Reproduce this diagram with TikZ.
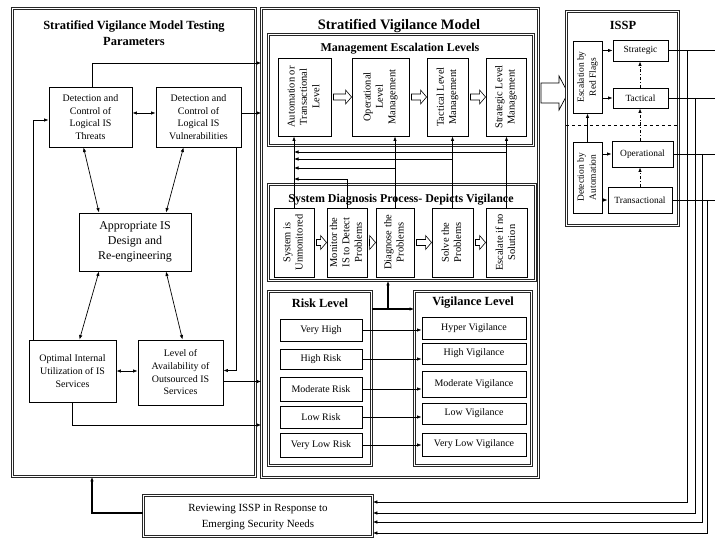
\documentclass[tikz,border=0pt]{standalone}
\usepackage{fontspec}
\setmainfont{Liberation Serif}
\usepackage{graphicx}
\usetikzlibrary{positioning, arrows.meta, shapes.geometric}

\newcommand{\vtext}[1]{\rotatebox{90}{\begin{tabular}{@{}c@{}}#1\end{tabular}}}
% freccia cava tra due blocchi affiancati
\newcommand{\harrow}[2]{%
    \draw [fill=white, line width=0.6bp] ([xshift=2bp, yshift=3bp]#1.east) -- ([xshift=-6bp, yshift=3bp]#1.east -| #2.west)
        -- ([xshift=-6bp, yshift=7bp]#1.east -| #2.west) -- (#1.east -| #2.west)
        -- ([xshift=-6bp, yshift=-7bp]#1.east -| #2.west) -- ([xshift=-6bp, yshift=-3bp]#1.east -| #2.west)
        -- ([xshift=2bp, yshift=-3bp]#1.east) -- cycle;}

\begin{document}
\begin{tikzpicture}[x=1bp, y=-1bp, >={Latex[length=4.5bp, width=3.5bp]}, line width=0.7bp]
    % Stili
    \tikzstyle{tribox} = [draw=black!85, double, double distance=1.8bp, line width=0.7bp, inner sep=0pt]
    \tikzstyle{block} = [draw, rectangle, line width=0.9bp, inner sep=1bp, align=center, font=\fontsize{10}{12.7}\selectfont]
    \tikzstyle{vblock} = [block, font=\fontsize{10.5}{12.5}\selectfont]
    \tikzstyle{sblock} = [block, font=\fontsize{9.5}{12}\selectfont]
    \tikzstyle{title} = [align=center, font=\bfseries\fontsize{12.5}{16.5}\selectfont]
    \tikzstyle{thk} = [line width=1.5bp]

    \useasboundingbox (0,0) rectangle (715,539);

    % Riquadri
    \node [tribox, minimum width=243bp, minimum height=468bp] (fL) at (134,242.5) {};
    \node [tribox, minimum width=277bp, minimum height=469bp] (fSVM) at (400,243) {};
    \node [tribox, minimum width=265bp, minimum height=111bp] (fMEL) at (401,90) {};
    \node [tribox, minimum width=267bp, minimum height=96bp] (fSDP) at (402,232.5) {};
    \node [tribox, minimum width=103bp, minimum height=174bp] (fRisk) at (320,378.5) {};
    \node [tribox, minimum width=117bp, minimum height=174bp] (fVig) at (473,378.5) {};
    % freccia verso ISSP
    \draw [fill=white] (541,83) -- (559,83) -- (559,76) -- (568,93) -- (559,110) -- (559,103) -- (541,103) -- cycle;
    \node [tribox, fill=white, minimum width=112bp, minimum height=214bp] (fISSP) at (622.5,118.5) {};
    \node [tribox, minimum width=229bp, minimum height=41bp] (rev) at (258,516)
        {\fontsize{11}{16}\selectfont\begin{tabular}{c}Reviewing ISSP in Response to\\Emerging Security Needs\end{tabular}};

    % Titoli
    \node [title] (tL) at (134,33) {Stratified Vigilance Model Testing\\Parameters};
    \node [title, font=\bfseries\fontsize{14.5}{16}\selectfont] (tSVM) at (399,26) {Stratified Vigilance Model};
    \node [title, font=\bfseries\fontsize{12}{14}\selectfont] (tMEL) at (400,49) {Management Escalation Levels};
    \node [title, font=\bfseries\fontsize{12}{14}\selectfont] (tSDP) at (401,200) {System Diagnosis Process- Depicts Vigilance};
    \node [title] (tRisk) at (320,303) {Risk Level};
    \node [title] (tVig) at (473,303) {Vigilance Level};
    \node [title] (tISSP) at (623,25) {ISSP};

    % Nodi - parametri
    \node [block, minimum width=83bp, minimum height=60bp] (thr) at (90.5,117) {Detection and\\Control of\\Logical IS\\Threats};
    \node [block, minimum width=85bp, minimum height=60bp] (vul) at (198.5,117) {Detection and\\Control of\\Logical IS\\Vulnerabilities};
    \node [block, minimum width=112bp, minimum height=58bp, font=\fontsize{12}{15}\selectfont] (app) at (135,242) {Appropriate IS\\Design and\\Re-engineering};
    \node [block, minimum width=87bp, minimum height=62bp] (opt) at (72.5,371) {Optimal Internal\\Utilization of IS\\Services};
    \node [block, minimum width=85bp, minimum height=65bp] (lev) at (180.5,372.5) {Level of\\Availability of\\Outsourced IS\\Services};

    % Nodi - livelli di escalation
    \node [vblock, minimum width=53bp, minimum height=78bp] (aut) at (304.5,97) {\vtext{Automation or\\Transactional\\Level}};
    \node [vblock, minimum width=57bp, minimum height=78bp] (ope) at (380.5,97) {\vtext{Operational\\Level\\Management}};
    \node [vblock, minimum width=41bp, minimum height=78bp] (tac) at (447.5,97) {\vtext{Tactical Level\\Management}};
    \node [vblock, minimum width=40bp, minimum height=78bp] (str) at (506,97) {\vtext{Strategic Level\\Management}};

    % Nodi - diagnosi
    \node [vblock, minimum width=40bp, minimum height=69bp] (unm) at (294,242.5) {\vtext{System is\\Unmonitored}};
    \node [vblock, minimum width=40bp, minimum height=69bp] (mon) at (347,242.5) {\vtext{Monitor the\\IS to Detect\\Problems}};
    \node [vblock, minimum width=38bp, minimum height=69bp] (dia) at (395,242.5) {\vtext{Diagnose the\\Problems}};
    \node [vblock, minimum width=41bp, minimum height=69bp] (sol) at (452.5,242.5) {\vtext{Solve the\\Problems}};
    \node [vblock, minimum width=41bp, minimum height=69bp] (esc) at (506.5,242.5) {\vtext{Escalate if no\\Solution}};

    % Nodi - rischio e vigilanza
    \node [block, minimum width=82bp, minimum height=22bp] (vh) at (321,330) {Very High};
    \node [block, minimum width=82bp, minimum height=20bp] (hr) at (321,359) {High Risk};
    \node [block, minimum width=82bp, minimum height=24bp] (mr) at (321,389) {Moderate Risk};
    \node [block, minimum width=82bp, minimum height=22bp] (lr) at (321,417) {Low Risk};
    \node [block, minimum width=82bp, minimum height=24bp] (vl) at (321,445) {Very Low Risk};
    \node [block, minimum width=104bp, minimum height=22bp] (hv) at (474,328) {Hyper Vigilance};
    \node [block, minimum width=104bp, minimum height=21bp] (hiv) at (474,353.5) {High Vigilance};
    \node [block, minimum width=104bp, minimum height=26bp] (mv) at (474,384) {Moderate Vigilance};
    \node [block, minimum width=104bp, minimum height=21bp] (lv) at (474,413.5) {Low Vigilance};
    \node [block, minimum width=104bp, minimum height=23bp] (vlv) at (474,444.5) {Very Low Vigilance};

    % Nodi - ISSP
    \node [sblock, minimum width=29bp, minimum height=72bp] (red) at (587.5,77) {\vtext{Escalation by\\Red Flags}};
    \node [sblock, minimum width=29bp, minimum height=71bp] (det) at (587.5,177.5) {\vtext{Detection by\\Automation}};
    \node [sblock, minimum width=55bp, minimum height=21bp] (sg) at (640.5,50.5) {Strategic};
    \node [sblock, minimum width=55bp, minimum height=20bp] (tc) at (640.5,98) {Tactical};
    \node [sblock, minimum width=61bp, minimum height=26bp] (op) at (642.5,154) {Operational};
    \node [sblock, minimum width=64bp, minimum height=26bp] (tr) at (640,200) {Transactional};

    % Collegamenti - parametri
    \draw [<->] ([yshift=4bp]thr.east) -- ([yshift=4bp]vul.west);
    \draw [<->] ([xshift=-7bp]thr.south) -- ([xshift=-36bp]app.north);
    \draw [<->] ([xshift=-15bp]vul.south) -- ([xshift=31bp]app.north);
    \draw [<->] ([xshift=-36bp]app.south) -- ([xshift=7bp]opt.north);
    \draw [<->] ([xshift=31bp]app.south) -- ([xshift=2bp]lev.north);
    \draw [<->] (opt.east) -- (opt.east -| lev.west);
    \draw [->] ([xshift=5bp]opt.north west) |- ([yshift=-3bp]thr.west);
    \draw [->] ([xshift=-5bp]vul.south east) |- ([yshift=2bp]lev.east);
    \draw [->] ([xshift=2bp]thr.north) |- (fSVM.west |- 0,63);
    \draw [->] ([yshift=4bp]vul.east) -- ([yshift=4bp]vul.east -| fSVM.west);
    \draw [->] ([yshift=-9bp]lev.east) -- ([yshift=-9bp]lev.east -| fSVM.west);
    \draw [->] (opt.south) |- (fSVM.west |- 0,425);

    % Collegamenti - escalation
    \harrow{aut}{ope}
    \harrow{ope}{tac}
    \harrow{tac}{str}
    \harrow{unm}{mon}
    \harrow{mon}{dia}
    \harrow{dia}{sol}
    \harrow{sol}{esc}
    \draw [->] (unm.north) -- (unm.north |- aut.south);
    \draw [->] (mon.north) |- (unm.north |- 0,179);
    \draw [->] (dia.north) -- (dia.north |- ope.south);
    \draw [->] (dia.north |- 0,168) -- (unm.north |- 0,168);
    \draw [->] (sol.north) -- (sol.north |- tac.south);
    \draw [->] (sol.north |- 0,159) -- (unm.north |- 0,159);
    \draw [->] (esc.north) -- (esc.north |- str.south);
    \draw [->] (esc.north |- 0,152) -- (unm.north |- 0,152);

    % Collegamenti - rischio
    \coordinate (rv) at (388,309);
    \draw [->, thk] (rv -| fRisk.east) -- (rv -| fVig.west);
    \draw [->, thk] (rv) -- (rv |- fSDP.south);
    \foreach \r/\v in {vh/hv, hr/hiv, mr/mv, lr/lv, vl/vlv}
        \draw [->] (\r.east) -- (\r.east -| \v.west);

    % Collegamenti - ISSP
    \draw [dashed, line width=1bp] (fISSP.west |- 0,126) -- (fISSP.east |- 0,126);
    \draw [->, line width=1.3bp] (det.north) -- (red.south);
    \draw [->] (red.east |- sg) -- (sg.west);
    \draw [->] (red.east |- tc) -- (tc.west);
    \draw [->] (det.east |- op) -- (op.west);
    \draw [->] (det.east |- tr) -- (tr.west);
    \draw [->, dash dot] (tr.north) -- (tr.north |- op.south);
    \draw [->, dash dot] (tr.north |- op.north) -- (tr.north |- tc.south);
    \draw [->, dash dot] (tr.north |- tc.north) -- (tr.north |- sg.south);

    % Ritorno verso la revisione
    \foreach \n/\x/\y in {sg/687/502, tc/695/513, op/702/522, tr/707/533} {
        \draw (\n.east) -- (\n.east -| 715,0);
        \draw [->] (\n.east -| \x,0) |- (rev.east |- 0,\y);
    }
    \draw [->, line width=1.3bp] (rev.west |- 0,513) -| (fL.south -| 92,0);
\end{tikzpicture}
\end{document}
